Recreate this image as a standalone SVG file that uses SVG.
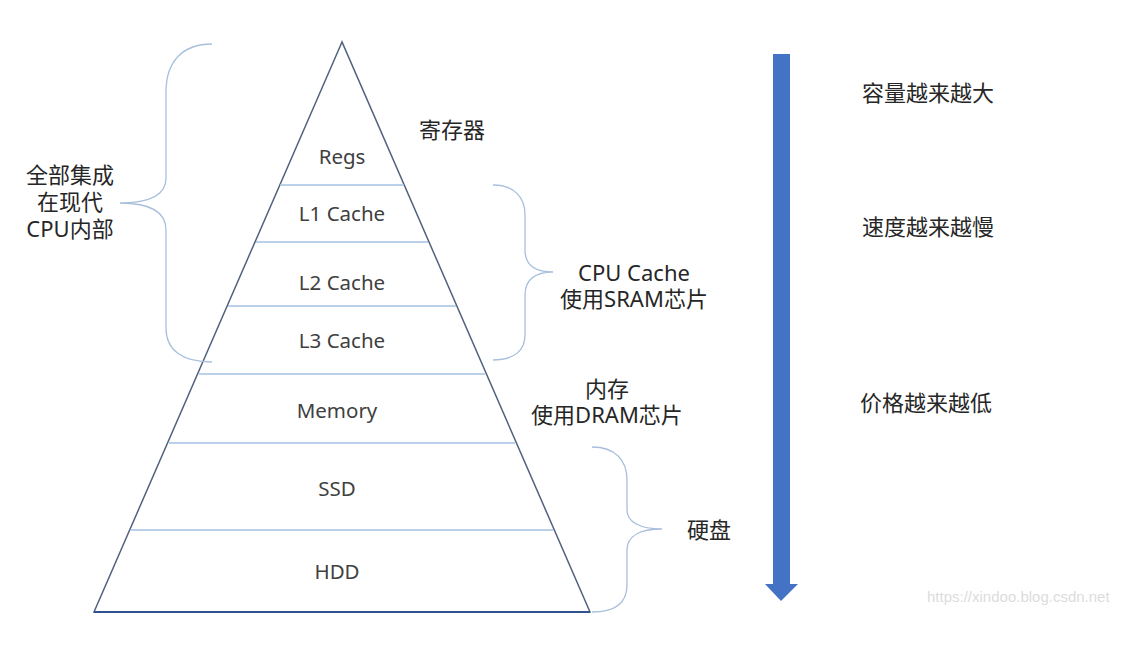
<svg xmlns="http://www.w3.org/2000/svg" width="1140" height="645" viewBox="0 0 1140 645">
<style>
.lbl{font-family:"Noto Sans","Noto Sans CJK SC",sans-serif;font-size:20.5px;fill:#404040;text-anchor:middle}
.note{font-family:"Noto Sans","Noto Sans CJK SC",sans-serif;font-size:22px;fill:#262626}
.mid{text-anchor:middle}
.div{stroke:#a3c2e2;stroke-width:1.5;fill:none}
.brace{stroke:#a8bfdc;stroke-width:1.3;fill:none}
</style>
<rect width="1140" height="645" fill="#ffffff"/>
<g id="pyramid">
  <polygon points="342,42 94,612 590,612" fill="#ffffff" stroke="#51627f" stroke-width="1.5"/>
  <line x1="94" y1="612" x2="590" y2="612" stroke="#2f528f" stroke-width="2"/>
</g>
<g id="dividers">
  <line class="div" x1="280" y1="185" x2="404" y2="185"/>
  <line class="div" x1="256" y1="242" x2="428" y2="242"/>
  <line class="div" x1="228" y1="306" x2="456" y2="306"/>
  <line class="div" x1="199" y1="374" x2="485" y2="374"/>
  <line class="div" x1="169" y1="443" x2="515" y2="443"/>
  <line class="div" x1="131" y1="530" x2="553" y2="530"/>
</g>
<g id="regs"><text class="lbl" x="342" y="164">Regs</text></g>
<g id="l1"><text class="lbl" x="342" y="221">L1 Cache</text></g>
<g id="l2"><text class="lbl" x="342" y="290">L2 Cache</text></g>
<g id="l3"><text class="lbl" x="342" y="348">L3 Cache</text></g>
<g id="memory"><text class="lbl" x="337" y="418">Memory</text></g>
<g id="ssd"><text class="lbl" x="337" y="496">SSD</text></g>
<g id="hdd"><text class="lbl" x="337" y="579">HDD</text></g>
<g id="braces">
  <path class="brace" d="M212,44 C182,44 166,62 166,92 L166,178 C166,195 150,203 120,203 C150,203 166,212 166,230 L166,328 C166,350 182,362 212,362"/>
  <path class="brace" d="M493,185 C515,185 525,198 525,215 L525,250 C525,265 535,272 553,272 C535,272 525,280 525,295 L525,335 C525,350 515,360 493,360"/>
  <path class="brace" d="M592,447 C615,447 627,460 627,480 L627,510 C627,522 640,529 662,529 C640,529 627,536 627,550 L627,585 C627,603 615,612 592,612"/>
</g>
<g id="cpu-note">
  <text class="note mid" x="70" y="183">全部集成</text>
  <text class="note mid" x="70" y="210">在现代</text>
  <text class="note mid" x="70" y="237">CPU内部</text>
</g>
<g id="reg-note"><text class="note" x="419" y="138">寄存器</text></g>
<g id="cache-note">
  <text class="note mid" x="634" y="281">CPU Cache</text>
  <text class="note mid" x="634" y="307">使用SRAM芯片</text>
</g>
<g id="mem-note">
  <text class="note mid" x="607" y="397">内存</text>
  <text class="note mid" x="607" y="423">使用DRAM芯片</text>
</g>
<g id="disk-note"><text class="note" x="687" y="538">硬盘</text></g>
<g id="arrow">
  <polygon points="773,54 790,54 790,584 798,584 781,601 765,584 773,584" fill="#4472c4"/>
</g>
<g id="trend">
  <text class="note" x="862" y="101">容量越来越大</text>
  <text class="note" x="862" y="235">速度越来越慢</text>
  <text class="note" x="860" y="411">价格越来越低</text>
</g>
<text x="927" y="602" font-family="Liberation Sans, sans-serif" font-size="15" fill="#dcdcdc">https://xindoo.blog.csdn.net</text>
</svg>
